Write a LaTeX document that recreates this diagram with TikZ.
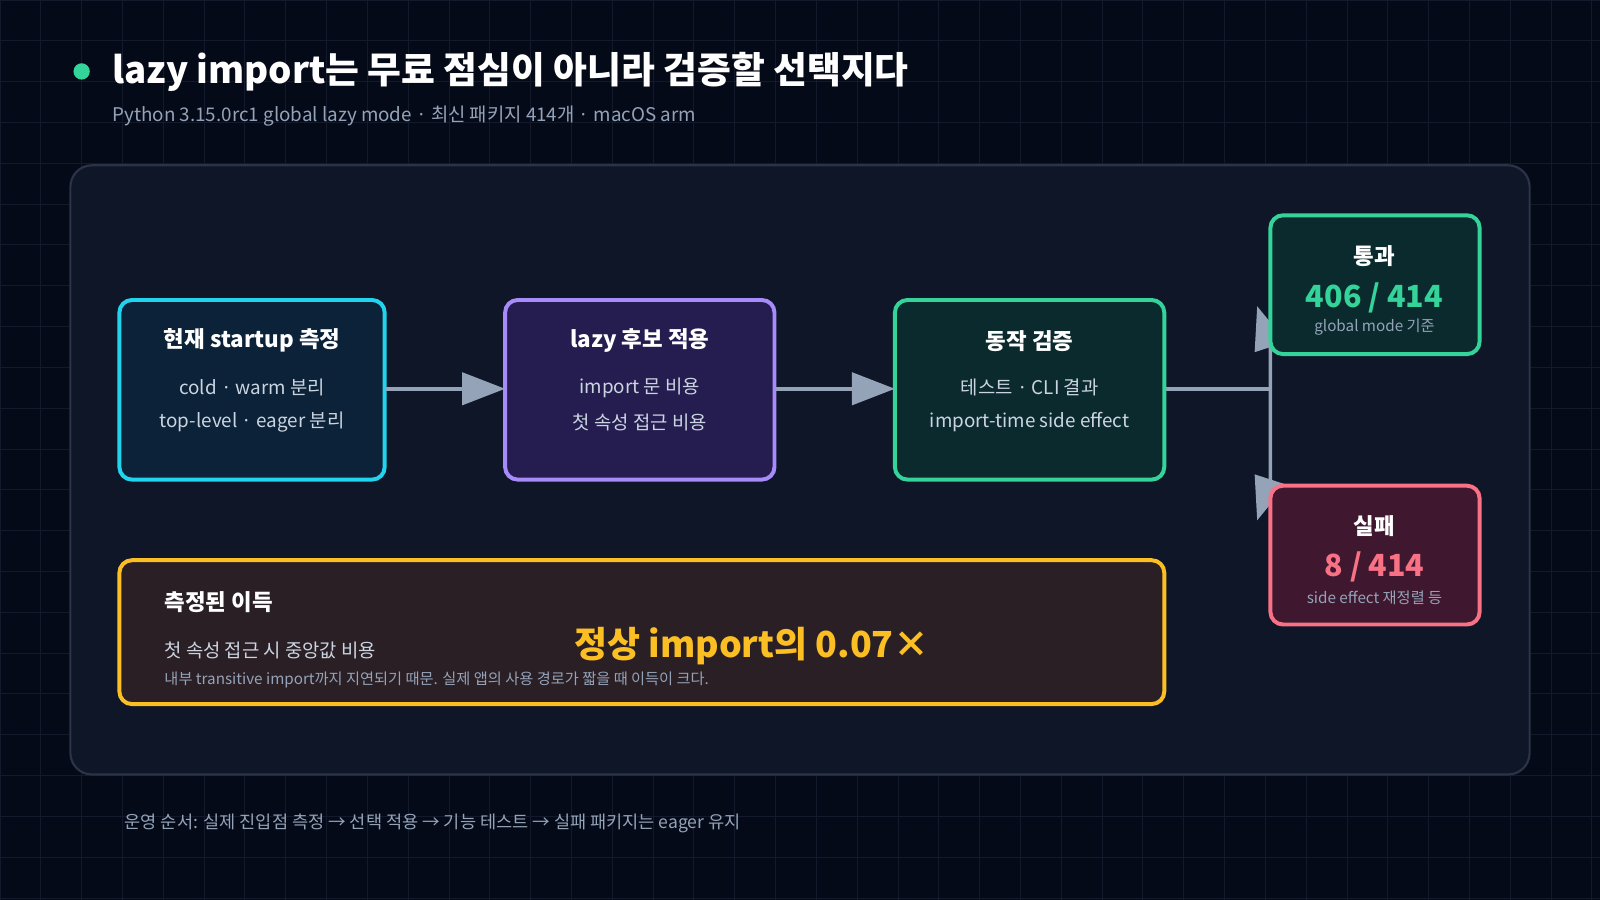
\documentclass[tikz,border=0pt]{standalone}
\usepackage{fontspec}
\setmainfont{Noto Sans CJK KR}
\usetikzlibrary{arrows.meta}
\definecolor{bg}{HTML}{050A18}
\definecolor{gridc}{HTML}{121A2C}
\definecolor{panel}{HTML}{0E1628}
\definecolor{panelb}{HTML}{2A3446}
\definecolor{cyanb}{HTML}{22D3EE}\definecolor{cyanf}{HTML}{0C2238}
\definecolor{purpb}{HTML}{A78BFA}\definecolor{purpf}{HTML}{251D50}
\definecolor{grnb}{HTML}{34D399}\definecolor{grnf}{HTML}{0B2A2E}
\definecolor{pinkb}{HTML}{F87185}\definecolor{pinkf}{HTML}{3F1830}
\definecolor{yelb}{HTML}{FBBF24}\definecolor{yelf}{HTML}{2A1F25}
\definecolor{txt}{HTML}{CBD5E1}\definecolor{mut}{HTML}{94A3B8}
\definecolor{conn}{HTML}{94A3B8}
\tikzset{
 box/.style={draw=#1b,fill=#1f,line width=2.2pt,rounded corners=7pt},
 ttl/.style={text=white,font=\bfseries\fontsize{12.5}{14}\selectfont},
 ln/.style={text=txt,font=\fontsize{10.5}{12}\selectfont},
 arr/.style={draw=conn,line width=2pt,-{Triangle[length=24pt,width=18pt]}},
}
\begin{document}
\begin{tikzpicture}[x=0.02cm,y=-0.02cm]
\useasboundingbox (0,0) rectangle (1568,882);
\fill[bg] (0,0) rectangle (1568,882);
\foreach \i in {0,40,...,1560} \draw[gridc,line width=0.5pt] (\i,0)--(\i,882);
\foreach \j in {0,40,...,880} \draw[gridc,line width=0.5pt] (0,\j)--(1568,\j);
\fill[grnb] (80,70) circle (8);
\node[anchor=west,text=white,font=\bfseries\fontsize{20.5}{24}\selectfont] (title) at (104,70) {lazy import는 무료 점심이 아니라 검증할 선택지다};
\node[anchor=west,text=mut,font=\fontsize{10.5}{12}\selectfont] (sub) at (104,114) {Python 3.15.0rc1 global lazy mode · 최신 패키지 414개 · macOS arm};
\draw[fill=panel,draw=panelb,line width=1.2pt,rounded corners=12pt] (69,162) rectangle (1499,759);
% connectors
\coordinate (j) at (1245,381);
\coordinate (pt) at (1232,300);
\coordinate (ft) at (1232,510);
\draw[conn,line width=2pt] (1141,381) -- (j);
\draw[arr] (j) -- (1245,340) -- (pt);
\draw[arr] (j) -- (1245,470) -- (ft);
\draw[box=cyan] (117,294) rectangle (377,470);
\draw[box=purp] (495,294) rectangle (759,470);
\draw[box=grn] (877,294) rectangle (1141,470);
\coordinate (b1e) at (377,381); \coordinate (b2w) at (495,381);
\coordinate (b2e) at (759,381); \coordinate (b3w) at (877,381);
\draw[arr] (b1e) -- (b2w);
\draw[arr] (b2e) -- (b3w);
\node[ttl] (t1) at (247,334) {현재 startup 측정};
\node[ln] at (247,380) {cold · warm 분리};
\node[ln] at (247,414) {top-level · eager 분리};
\node[ttl] (t2) at (627,334) {lazy 후보 적용};
\node[ln] at (627,380) {import 문 비용};
\node[ln] at (627,414) {첫 속성 접근 비용};
\node[ttl] (t3) at (1009,334) {동작 검증};
\node[ln] at (1009,380) {테스트 · CLI 결과};
\node[ln] at (1009,414) {import-time side effect};
\draw[box=grn] (1245,211) rectangle (1450,347);
\node[ttl] (pass) at (1347,251) {통과};
\node[text=grnb,font=\bfseries\fontsize{17}{20}\selectfont] at (1347,292) {406 / 414};
\node[text=mut,font=\fontsize{8.5}{10}\selectfont] at (1347,321) {global mode 기준};
\draw[box=pink] (1245,476) rectangle (1450,612);
\node[ttl] (fail) at (1347,516) {실패};
\node[text=pinkb,font=\bfseries\fontsize{17}{20}\selectfont] at (1347,556) {8 / 414};
\node[text=mut,font=\fontsize{8.5}{10}\selectfont] at (1347,586) {side effect 재정렬 등};
\draw[box=yel] (117,549) rectangle (1141,690);
\node[ttl,anchor=west] (g) at (155,590) {측정된 이득};
\node[ln,anchor=west] at (155,637) {첫 속성 접근 시 중앙값 비용};
\node[text=yelb,font=\bfseries\fontsize{20}{24}\selectfont] at (737,633) {정상 import의 0.07×};
\node[text=mut,font=\fontsize{8.5}{10}\selectfont,anchor=west] at (155,666) {내부 transitive import까지 지연되기 때문. 실제 앱의 사용 경로가 짧을 때 이득이 크다.};
\node[text=mut,font=\fontsize{9.8}{11}\selectfont,anchor=west] (foot) at (116,807) {운영 순서: 실제 진입점 측정 → 선택 적용 → 기능 테스트 → 실패 패키지는 eager 유지};
\end{tikzpicture}
\end{document}
